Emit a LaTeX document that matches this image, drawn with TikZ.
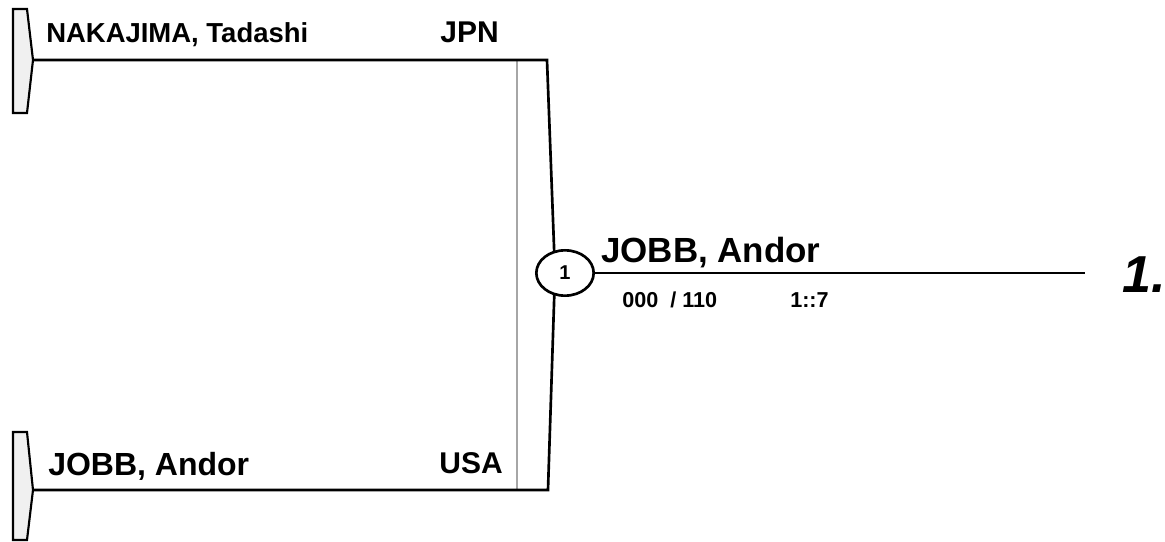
\documentclass[tikz,border=0pt]{standalone}
\usepackage{fontspec}
\setmainfont{Liberation Sans}
\usetikzlibrary{shapes}

\begin{document}
\begin{tikzpicture}[x=0.75pt, y=-0.75pt, every node/.style={inner sep=0pt, font=\bfseries}, line/.style={line width=2pt}, tab/.style={draw, line width=1.6pt, fill=gray!12}, sz/.style={font=\bfseries\fontsize{#1}{#1}\selectfont}]
        \useasboundingbox (0,0) rectangle (1165,542);

        % player tabs
        \draw[tab] (13,9) -- (27,9) -- (33,60) -- (27,113) -- (13,113) -- cycle;
        \draw[tab] (13,432) -- (27,432) -- (33,490) -- (27,540) -- (13,540) -- cycle;
        \coordinate (p1) at (33,60);
        \coordinate (p2) at (33,490);

        \node[sz=20.6, anchor=base west] (n1) at (46,43) {NAKAJIMA, Tadashi};
        \node[sz=22.5, anchor=base east] (c1) at (499,43) {JPN};
        \node[sz=24, anchor=base west] (n2) at (48,475) {JOBB, Andor};
        \node[sz=22.5, anchor=base east] (c2) at (503,473) {USA};

        % bracket
        \coordinate (g1) at (517,60);
        \coordinate (g2) at (517,490);
        \coordinate (t1) at (547,60);
        \coordinate (j) at (555,273);
        \coordinate (b1) at (548,490);
        \draw[gray!70, line width=1.2pt] (g1) -- (g2);
        \draw[line] (p1) -- (t1) -- (j) -- (b1) -- (p2);

        \node[ellipse, draw, line width=2pt, fill=white, minimum width=43pt, minimum height=34pt, sz=15] (m1) at (565,273) {1};
        \coordinate (w) at (1085,273);
        \draw[line] (m1) -- (w);

        \node[sz=26.2, anchor=base west] (n3) at (601,262) {JOBB, Andor};
        \node[sz=16.2, anchor=base west] (s1) at (622,307) {000\ \ / 110};
        \node[sz=16.2, anchor=base west] (s2) at (790,307) {1::7};
        \node[font=\bfseries\itshape\fontsize{39}{39}\selectfont, anchor=base west] (r1) at (1122,292) {1.};
    \end{tikzpicture}
\end{document}
